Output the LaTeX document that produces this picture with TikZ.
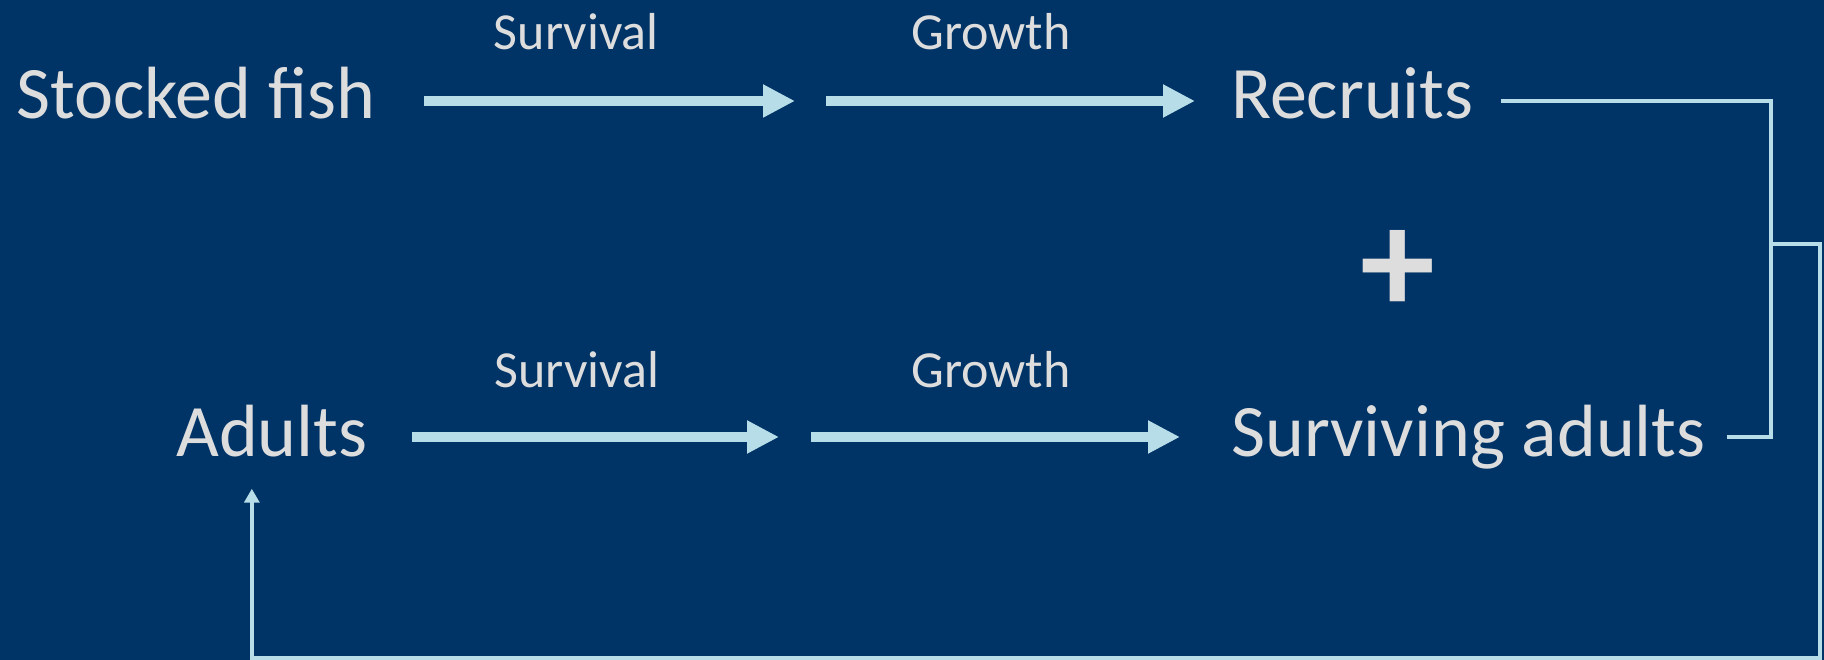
\documentclass[tikz,border=0pt]{standalone}
\usepackage{fontspec}
\setmainfont{Carlito}
\usepackage{tikz}
\usetikzlibrary{arrows.meta,calc}
\definecolor{navy}{RGB}{0,51,102}
\definecolor{aqua}{RGB}{183,222,232}
\definecolor{txt}{RGB}{221,221,221}
\tikzset{
	pool/.style={inner sep=0pt, anchor=base west, text=txt, font=\fontsize{74}{80}\selectfont},
	rate/.style={inner sep=0pt, text=txt, font=\fontsize{52}{56}\selectfont},
	flow/.style={-{Triangle[length=32pt, width=31pt]}, line width=10pt, draw=aqua},
	link/.style={line width=4pt, draw=aqua},
	back/.style={link, -{Triangle[length=14pt, width=15pt]}}
}

\begin{document}
\begin{tikzpicture}[x=1pt, y=1pt]
	\fill[navy] (0,0) rectangle (1824,660);
	\node[pool] (stocked) at (16,541) {Stocked fish};
	\node[pool] (recruits) at (1231,541) {Recruits};
	\node[pool] (adults) at (176,203) {Adults};
	\node[pool] (surviving) at (1231,203) {Surviving adults};
	\node[text=txt, font=\bfseries\fontsize{150}{150}\selectfont] (plus) at (1398,388) {+};
	\coordinate (top) at (810,559);
	\coordinate (low) at (795,223);
	\coordinate (join) at (1771,416);
	\coordinate (rim) at (1820,2);
	% both rows: survival, then growth
	\draw[flow] ($(stocked.east |- top)+(49,0)$) -- ($(top)+(-15,0)$) node[rate, pos=0.41, above=46pt] (surv1) {Survival};
	\draw[flow] ($(top)+(16,0)$) -- ($(recruits.west |- top)+(-36,0)$) node[rate, pos=0.447, above=46pt] (grow1) {Growth};
	\draw[flow] ($(adults.east |- low)+(44,0)$) -- ($(low)+(-16,0)$) node[rate, pos=0.45, above=44pt] (surv2) {Survival};
	\draw[flow] ($(low)+(16,0)$) -- ($(surviving.west |- low)+(-51,0)$) node[rate, pos=0.488, above=44pt] (grow2) {Growth};
	% recruits and survivors join, then go back to adults
	\draw[link] ($(recruits.east |- top)+(27,0)$) -| (join) |- ($(surviving.east |- low)+(21,0)$);
	\draw[back] (join) -| (rim) -| ($(adults.south)+(-20,-31)$);
\end{tikzpicture}
\end{document}
